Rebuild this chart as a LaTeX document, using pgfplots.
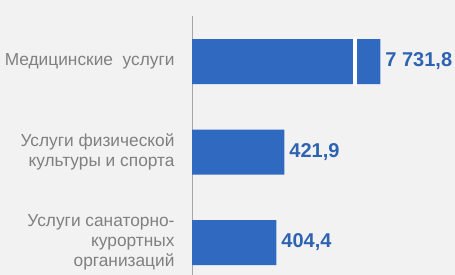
\documentclass[border=0pt]{standalone}
\usepackage{fontspec}
\setmainfont{Liberation Sans}
\usepackage{pgfplots}
\pgfplotsset{compat=1.18}
\definecolor{bg}{HTML}{F2F2F2}
\definecolor{barblue}{HTML}{306AC0}
\definecolor{lblblue}{HTML}{2E63B2}
\definecolor{txtgray}{HTML}{808080}
\definecolor{axgray}{HTML}{A6A6A6}
\begin{document}
\begin{tikzpicture}
\fill[bg] (0,0) rectangle (455pt,275pt);
\begin{axis}[
  at={(192pt,0pt)}, anchor=south west,
  scale only axis, width=260pt, height=259pt,
  xbar, bar width=45pt,
  xmin=220, xmax=789, ymin=-0.359, ymax=2.503,
  enlargelimits=false,
  axis x line=none,
  axis y line=left,
  axis line style={-, draw=axgray, line width=0.8pt},
  ytick={0,1,2},
  yticklabels={{Услуги санаторно-\\курортных\\организаций},{Услуги физической\\культуры и спорта},{Медицинские\ \ услуги}},
  major tick length=0pt,
  yticklabel style={anchor=east, xshift=-14pt, align=right, text=txtgray,
    font=\fontsize{17.3}{20}\selectfont},
  point meta=explicit symbolic,
  nodes near coords,
  nodes near coords style={anchor=west, inner sep=0pt, xshift=5pt, text=lblblue,
    font=\fontsize{20}{22}\selectfont\bfseries},
]
\addplot[fill=barblue, draw=none] coordinates {
  (404.4,0) [404,4]
  (421.9,1) [421,9]
  (632,2) [7 731,8]
};
\draw[white, line width=3.5pt] (axis cs:577,1.73) -- (axis cs:577,2.27);
\end{axis}
\pgfresetboundingbox
\path (0,0) rectangle (455pt,275pt);
\end{tikzpicture}
\end{document}
